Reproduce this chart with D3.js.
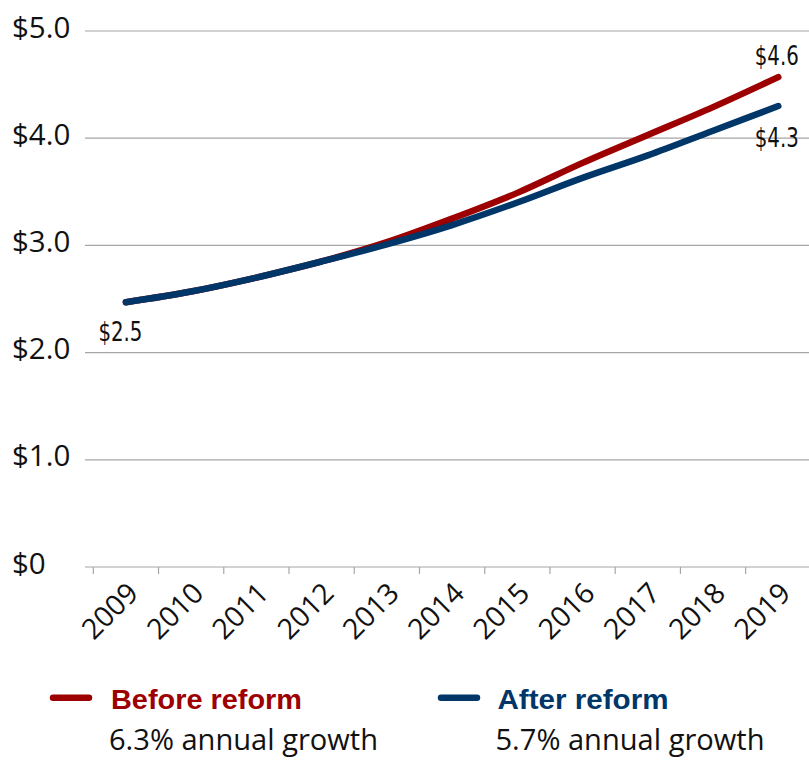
<!DOCTYPE html>
<html>
<head>
<meta charset="utf-8">
<script src="https://cdn.jsdelivr.net/npm/d3@7"></script>
<style>
  html, body { margin: 0; padding: 0; background: #fff; }
  svg { display: block; }
</style>
</head>
<body>
<svg id="chart" width="809" height="760"></svg>
<script>
const years = ["2009","2010","2011","2012","2013","2014","2015","2016","2017","2018","2019"];
const beforeReform = [2.47, 2.57, 2.70, 2.85, 3.03, 3.25, 3.49, 3.77, 4.03, 4.29, 4.57];
const afterReform  = [2.47, 2.57, 2.70, 2.85, 3.01, 3.19, 3.40, 3.63, 3.84, 4.07, 4.30];
const yTicks = [0, 1, 2, 3, 4, 5];
const yTickLabels = ["$0", "$1.0", "$2.0", "$3.0", "$4.0", "$5.0"];
const seriesNames = ["Before reform", "After reform"];
const growthLabels = ["6.3% annual growth", "5.7% annual growth"];
const valueLabels = ["$2.5", "$4.6", "$4.3"];

const RED = "#9c0000", BLUE = "#003668";
const svg = d3.select("#chart");

const x = d3.scaleBand().domain(years).range([93.3, 810.9]).paddingInner(0).paddingOuter(0);
const y = d3.scaleLinear().domain([0, 5]).range([567, 31]);
const cx = d => x(d) + x.bandwidth() / 2;

// gridlines
svg.append("g").selectAll("line").data(yTicks).join("line")
  .attr("x1", 85).attr("x2", 809)
  .attr("y1", d => y(d)).attr("y2", d => y(d))
  .attr("stroke", "#a6a6a6").attr("stroke-width", 1.2);

// y labels
svg.append("g").selectAll("text").data(yTicks).join("text")
  .attr("x", 12).attr("y", d => y(d) + 6.5)
  .attr("font-family", "'Open Sans', sans-serif").attr("font-size", 29.5)
  .attr("fill", "#111")
  .text((d, i) => yTickLabels[i]);

// x axis ticks at band boundaries
svg.append("g").selectAll("line").data(years).join("line")
  .attr("x1", d => x(d)).attr("x2", d => x(d))
  .attr("y1", y(0)).attr("y2", y(0) + 7)
  .attr("stroke", "#a6a6a6").attr("stroke-width", 1.2);

// x labels
svg.append("g").selectAll("text").data(years).join("text")
  .attr("transform", d => `translate(${cx(d) + 14},${y(0) + 28}) rotate(-45)`)
  .attr("text-anchor", "end")
  .attr("font-family", "'Open Sans', sans-serif").attr("font-size", 28.5)
  .attr("fill", "#111")
  .text(d => d);

// lines
const line = d3.line().x((d, i) => cx(years[i])).y(d => y(d)).curve(d3.curveMonotoneX);
svg.append("path").datum(beforeReform).attr("d", line)
  .attr("fill", "none").attr("stroke", RED).attr("stroke-width", 6.5)
  .attr("stroke-linecap", "round").attr("stroke-linejoin", "round");
svg.append("path").datum(afterReform).attr("d", line)
  .attr("fill", "none").attr("stroke", BLUE).attr("stroke-width", 6.5)
  .attr("stroke-linecap", "round").attr("stroke-linejoin", "round");

// value labels
const narrow = "'Liberation Sans Narrow', 'DejaVu Sans Condensed', sans-serif";
const last = years.length - 1;
const vl = [
  { t: valueLabels[0], x: cx(years[0]) - 5.5, y: y(afterReform[0]) + 38.5 },
  { t: valueLabels[1], x: cx(years[last]) - 1.5, y: y(beforeReform[last]) - 11.7 },
  { t: valueLabels[2], x: cx(years[last]) - 1.5, y: y(afterReform[last]) + 41 }
];
svg.append("g").selectAll("text").data(vl).join("text")
  .attr("x", d => d.x).attr("y", d => d.y)
  .attr("text-anchor", "middle")
  .attr("font-family", narrow).attr("font-size", 27)
  .attr("textLength", 44).attr("lengthAdjust", "spacingAndGlyphs")
  .attr("fill", "#111")
  .text(d => d.t);

// legend
const legend = [
  { name: seriesNames[0], growth: growthLabels[0], color: RED, x0: 53, tx: 111, w1: 191, w2: 269 },
  { name: seriesNames[1], growth: growthLabels[1], color: BLUE, x0: 441, tx: 497.5, w1: 171, w2: 269 }
];
const lg = svg.append("g").selectAll("g").data(legend).join("g");
lg.append("line")
  .attr("x1", d => d.x0).attr("x2", d => d.x0 + 36)
  .attr("y1", 697.7).attr("y2", 697.7)
  .attr("stroke", d => d.color).attr("stroke-width", 6.5).attr("stroke-linecap", "round");
lg.append("text")
  .attr("x", d => d.tx).attr("y", 709)
  .attr("font-family", "'Liberation Sans', Arial, sans-serif").attr("font-weight", "bold")
  .attr("font-size", 27).attr("fill", d => d.color)
  .attr("textLength", d => d.w1).attr("lengthAdjust", "spacingAndGlyphs")
  .text(d => d.name);
lg.append("text")
  .attr("x", d => d.tx - 2).attr("y", 750)
  .attr("font-family", "'Open Sans', sans-serif")
  .attr("font-size", 28.5).attr("fill", "#111")
  .attr("textLength", d => d.w2).attr("lengthAdjust", "spacingAndGlyphs")
  .text(d => d.growth);
</script>
</body>
</html>
